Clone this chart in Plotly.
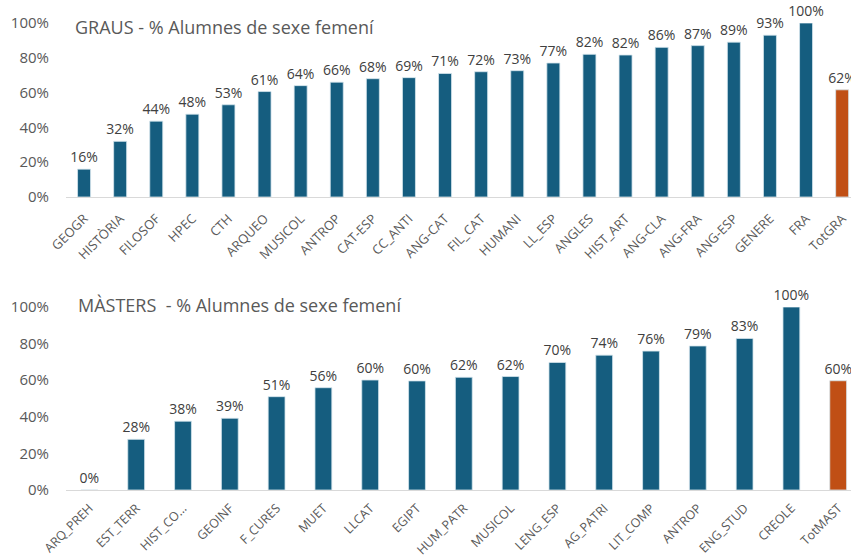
import plotly.graph_objects as go

grau_cats = ["GEOGR", "HISTÒRIA", "FILOSOF", "HPEC", "CTH", "ARQUEO", "MUSICOL", "ANTROP",
             "CAT-ESP", "CC_ANTI", "ANG-CAT", "FIL_CAT", "HUMANI", "LL_ESP", "ANGLES",
             "HIST_ART", "ANG-CLA", "ANG-FRA", "ANG-ESP", "GENERE", "FRA", "TotGRA"]
grau_vals = [0.16, 0.32, 0.436, 0.476, 0.53, 0.606, 0.64, 0.66, 0.68, 0.686, 0.71, 0.72,
             0.726, 0.77, 0.82, 0.816, 0.86, 0.87, 0.89, 0.93, 1.00, 0.616]

mast_cats = ["ARQ_PREH", "EST_TERR", "HIST_CO...", "GEOINF", "F_CURES", "MUET", "LLCAT",
             "EGIPT", "HUM_PATR", "MUSICOL", "LENG_ESP", "AG_PATRI", "LIT_COMP", "ANTROP",
             "ENG_STUD", "CREOLE", "TotMAST"]
mast_vals = [0.0, 0.277, 0.376, 0.392, 0.51, 0.559, 0.601, 0.596, 0.616, 0.62, 0.697,
             0.737, 0.759, 0.787, 0.828, 1.0, 0.597]

y_ticks = [0, 0.2, 0.4, 0.6, 0.8, 1.0]

BLUE = "#155d7f"
ORANGE = "#c04f15"
GRAY = "#595959"
FONT = "Open Sans"

def colors(cats):
    return [ORANGE if c.startswith("Tot") else BLUE for c in cats]

def bar(x, y, xa, ya):
    return go.Bar(
        x=x, y=y, xaxis=xa, yaxis=ya,
        marker=dict(color=colors(x), line=dict(color="#d6e6ee", width=0.8)),
        texttemplate="%{y:.0%}", textposition="outside", cliponaxis=False,
        constraintext="none",
        textfont=dict(size=14, color="#404040", family=FONT),
        showlegend=False, hoverinfo="skip")

fig = go.Figure()
fig.add_trace(bar(grau_cats, grau_vals, "x", "y"))
fig.add_trace(bar(mast_cats, mast_vals, "x2", "y2"))

W, H = 851, 556
L = 66
left = L / W
plot_w = W - L

xcommon = dict(type="category", showgrid=False, zeroline=False, showline=True,
               linecolor="#d9d9d9", linewidth=1, tickangle=-45, ticks="",
               automargin=False,
               tickfont=dict(size=13, color=GRAY, family=FONT))
ycommon = dict(showgrid=False, zeroline=False, showline=False, tickformat=".0%",
               tickvals=y_ticks, ticks="", ticklabelstandoff=16, automargin=False,
               tickfont=dict(size=15, color=GRAY, family=FONT))

fig.update_layout(
    width=W, height=H, margin=dict(l=0, r=0, t=0, b=0),
    paper_bgcolor="white", plot_bgcolor="white",
    bargap=0.64,
    xaxis=dict(xcommon, domain=[left, 1], range=[-0.5, -0.5 + plot_w / 36.1], anchor="y",
               ticklabelstandoff=8),
    yaxis=dict(ycommon, domain=[(H - 197) / H, (H - 23) / H], range=[0, 1.0], anchor="x"),
    xaxis2=dict(xcommon, domain=[left, 1], range=[-0.5, -0.5 + plot_w / 46.8], anchor="y2",
                ticklabelstandoff=5, tickfont=dict(size=12.5, color=GRAY, family=FONT)),
    yaxis2=dict(ycommon, domain=[(H - 490) / H, (H - 307) / H], range=[0, 1.0], anchor="x2"),
    annotations=[
        dict(text="GRAUS - % Alumnes de sexe femení", xref="paper", yref="paper",
             x=73 / W, y=1 - 27 / H, xanchor="left", yanchor="middle", showarrow=False,
             font=dict(size=18, color=GRAY, family=FONT)),
        dict(text="MÀSTERS\u00a0 - % Alumnes de sexe femení", xref="paper", yref="paper",
             x=76 / W, y=1 - 305 / H, xanchor="left", yanchor="middle", showarrow=False,
             font=dict(size=18, color=GRAY, family=FONT)),
    ],
)

fig.write_html("out.html", config={"displayModeBar": False},
               post_script="document.body.style.margin='0';document.body.style.overflow='hidden';")
